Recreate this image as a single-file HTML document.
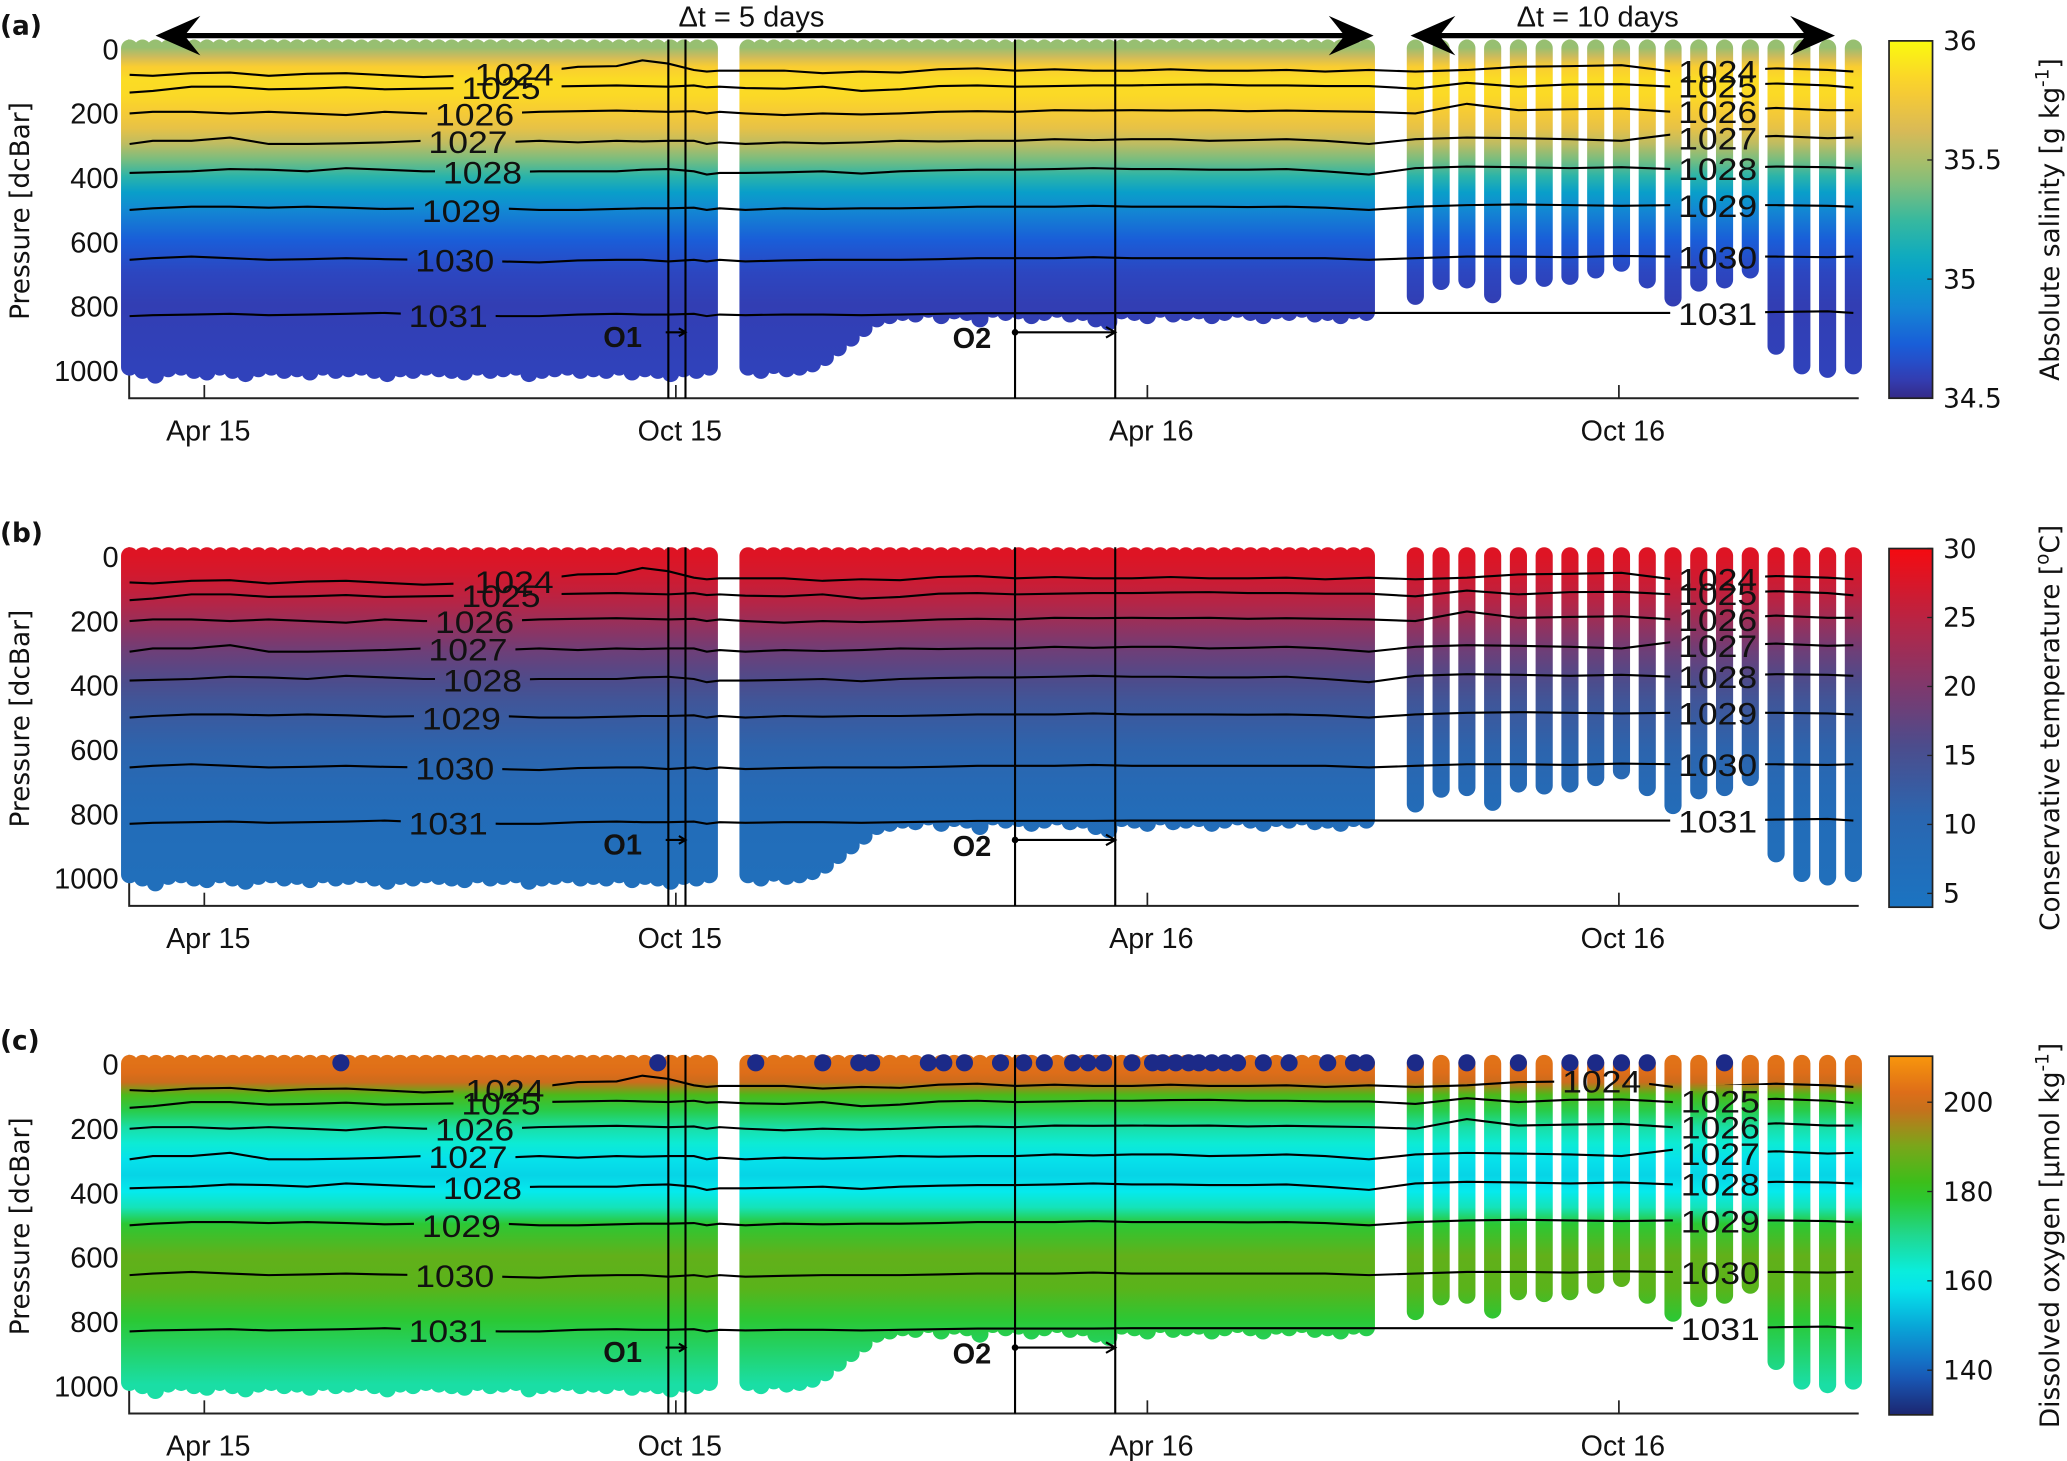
<!DOCTYPE html>
<html><head><meta charset="utf-8"><style>
html,body{margin:0;padding:0;background:#fff;}
svg{display:block;}
.tk{font-family:"Liberation Sans Narrow","Liberation Sans",sans-serif;font-size:22px;fill:#111;}
.iso{font-family:"Liberation Sans Narrow","Liberation Sans",sans-serif;font-size:24px;fill:#111;}
.cb{font-family:"DejaVu Sans","Liberation Sans",sans-serif;font-size:20px;fill:#111;}
</style></head><body>
<svg id="fig" width="2067" height="1461" viewBox="0 0 1568 1108" preserveAspectRatio="none" xmlns="http://www.w3.org/2000/svg"></svg>
<script>
// ---- data ----
const profileDays=[-29,-24,-19,-14,-9,-4,1,6,11,16,21,26,31,36,41,46,51,56,61,66,71,76,81,86,91,96,101,106,111,116,121,126,131,136,141,146,151,156,161,166,171,176,181,186,191,196,
211,216,221,226,231,236,241,246,251,256,261,266,271,276,281,286,291,296,301,306,311,316,321,326,331,336,341,346,351,356,361,366,371,376,381,386,391,396,401,406,411,416,421,426,431,436,441,446,451,
470,480,490,500,510,520,530,540,550,560,570,580,590,600,610,620,630,640];
const maxDepth=[1020,1030,1045,1025,1020,1030,1035,1020,1030,1040,1025,1020,1030,1025,1035,1020,1030,1025,1020,1030,1040,1025,1030,1020,1025,1030,1035,1020,1030,1025,1020,1040,1030,1025,1020,1030,1025,1030,1020,1035,1025,1030,1040,1025,1030,1020,
1020,1030,1015,1025,1020,1010,990,960,930,900,870,860,850,855,840,860,845,850,870,840,850,845,860,850,840,855,850,870,880,845,850,860,840,855,850,845,860,850,840,850,860,845,850,840,855,850,860,845,850,
800,754,749,795,738,744,738,718,697,749,805,759,749,718,955,1016,1027,1016];
const lowO2Days=[53,176,214,240,254,259,281,287,295,309,318,326,337,343,349,360,368,372,377,382,386,391,396,401,411,421,436,446,451,470,490,510,530,540,550,560,590];
const knotDays=[-29,-20,-5,10,25,40,55,70,85,100,115,130,145,160,170,180,190,195,200,210,225,240,255,270,285,300,315,330,345,360,375,390,405,420,435,452,470,490,510,530,550,570,590,610,630,640];
const d1024=[85,88,80,78,88,82,80,86,92,88,85,75,60,58,40,50,70,75,72,72,72,80,75,78,68,65,72,68,72,72,68,72,72,70,75,70,75,70,60,58,55,75,72,65,70,75];
const d1025=[140,135,122,122,130,128,124,130,128,126,124,122,120,118,120,122,118,124,122,126,128,122,135,130,120,118,122,120,118,118,116,115,118,118,120,120,128,110,122,115,114,122,118,112,118,125];
const d1026=[205,200,200,205,200,205,210,200,205,205,205,200,198,196,198,200,198,205,200,205,210,205,208,205,200,198,200,195,196,195,196,195,198,196,198,200,205,175,195,192,190,200,198,188,195,195];
const d1027=[300,290,290,280,300,300,298,295,290,290,295,290,295,290,292,290,290,300,295,300,295,298,295,290,292,290,290,285,288,285,285,290,288,285,290,300,285,280,282,285,290,270,282,275,282,280];
const d1028=[390,388,385,378,380,385,375,380,385,385,388,385,385,385,380,378,385,395,390,390,388,385,392,385,382,380,380,378,375,378,378,380,380,378,385,395,375,370,372,375,372,378,375,370,372,375];
const d1029=[505,500,495,495,498,495,498,502,500,505,500,505,505,502,500,500,498,505,500,505,500,502,500,500,498,495,495,495,492,495,495,495,496,495,498,505,495,490,488,490,492,490,490,490,492,495];
const d1030=[660,655,650,655,660,658,655,658,660,660,665,668,662,660,660,665,660,665,660,665,662,660,660,660,658,655,655,655,652,655,655,655,655,655,655,660,655,650,650,652,648,650,650,650,652,650];
const d1031=[835,832,830,828,832,830,828,825,830,832,835,835,830,828,830,830,828,835,830,832,830,830,832,830,828,826,826,826,826,825,825,825,825,825,825,825,825,825,825,825,825,825,825,822,820,825];
const isoNames=["1024","1025","1026","1027","1028","1029","1030","1031"];
const profDepths=[0,30,60,100,150,200,250,300,350,400,450,500,600,700,800,1000];
const salValues=[35.45,35.6,35.8,35.87,35.86,35.78,35.7,35.55,35.38,35.2,35.02,34.9,34.72,34.62,34.58,34.6];
const tempValues=[28,27.5,27,26,24.5,22.5,20.5,18.5,17,15.5,14,13,11,9,7.5,6.5];
const oxyValues=[203,202,199,184,176,168,163,158,156,159,166,178,187,186,178,168];
const monthTickDays=[0,183,366,549];
const monthTickLabels=["Apr 15","Oct 15","Apr 16","Oct 16"];
const pressureTicks=[0,200,400,600,800,1000];
const salTicks=[36,35.5,35,34.5], tempTicks=[30,25,20,15,10,5], oxyTicks=[200,180,160,140];

// ---- helpers ----
const NS="http://www.w3.org/2000/svg", svg=document.getElementById('fig');
function mk(tag,attrs,parent){const e=document.createElementNS(NS,tag);for(const k in attrs)e.setAttribute(k,attrs[k]);(parent||svg).appendChild(e);return e;}
const xS=d=>155+1.9546*d;
function hex(c){return [1,3,5].map(i=>parseInt(c.substr(i,2),16));}
function cmap(stops,t){t=Math.max(0,Math.min(1,t));for(let i=1;i<stops.length;i++){if(t<=stops[i][0]){const a=stops[i-1],b=stops[i],f=(t-a[0])/(b[0]-a[0]);const ca=hex(a[1]),cb=hex(b[1]);return 'rgb('+ca.map((v,j)=>Math.round(v+(cb[j]-v)*f)).join(',')+')';}}return stops[stops.length-1][1];}
const parula=[[0,'#352a87'],[0.06,'#3240b8'],[0.14,'#1a5ad8'],[0.25,'#1485d4'],[0.375,'#06a7c6'],[0.5,'#38b99e'],[0.625,'#92bf73'],[0.75,'#d9ba56'],[0.875,'#fcce2e'],[1,'#f9fb0e']];
const tmap=[[0,'#1b74c2'],[0.25,'#2a66b0'],[0.45,'#4c4c8c'],[0.6,'#7a3a70'],[0.8,'#b82444'],[1,'#f50a10']];
const omap=[[0,'#1c2670'],[0.12,'#1860c0'],[0.25,'#08a8d8'],[0.375,'#05f2f0'],[0.5,'#20d890'],[0.625,'#2ec41a'],[0.75,'#7aa61a'],[0.875,'#d8641c'],[1,'#f8960c']];

const panels=[
 {id:'a',y0:36,vals:salValues,cm:parula,lo:34.5,hi:36,ticks:salTicks,title:'Absolute salinity [g kg',sup:'-1',tail:']',cbTop:31,cbBot:302,leftLab:[390,380,360,355,366,350,345,340],rightLab:[1303,1303,1303,1303,1303,1303,1303,1303]},
 {id:'b',y0:421,vals:tempValues,cm:tmap,lo:4,hi:30,ticks:tempTicks,title:'Conservative temperature [',sup:'o',tail:'C]',cbTop:416,cbBot:688,leftLab:[390,380,360,355,366,350,345,340],rightLab:[1303,1303,1303,1303,1303,1303,1303,1303]},
 {id:'c',y0:806,vals:oxyValues,cm:omap,lo:130,hi:210.3,ticks:oxyTicks,title:'Dissolved oxygen [\u03bcmol kg',sup:'-1',tail:']',cbTop:801,cbBot:1073,leftLab:[383,380,360,355,366,350,345,340],rightLab:[1215,1305,1305,1305,1305,1305,1305,1305]}
];
const defs=mk('defs',{});
const isoArrays=[d1024,d1025,d1026,d1027,d1028,d1029,d1030,d1031];

panels.forEach(p=>{
 const yS=d=>p.y0+d*0.244, bottom=p.y0+266;
 const g=mk('g',{});
 
 
 const gr=mk('linearGradient',{id:'g'+p.id,gradientUnits:'userSpaceOnUse',x1:0,y1:yS(0),x2:0,y2:yS(1000)},defs);
 profDepths.forEach((d,i)=>mk('stop',{offset:d/1000,'stop-color':cmap(p.cm,(p.vals[i]-p.lo)/(p.hi-p.lo))},gr));
 const ax=mk('path',{d:`M98 ${p.y0-6} V${bottom} H1410`,stroke:'#222','stroke-width':1.5,fill:'none'},g);
 
 
 profileDays.forEach((d,i)=>{
  const r=mk('rect',{x:xS(d)-6.5,y:yS(0)-6,width:13,height:yS(maxDepth[i])-yS(0)+6,rx:6.5,fill:'url(#g'+p.id+')'},g);
  
  
 });
 if(p.id==='c'){lowO2Days.forEach(d=>{const c=mk('circle',{cx:xS(d),cy:yS(0),r:6.5,fill:'#1c2a88'},g);
  
  });}
 const m=mk('mask',{id:'m'+p.id,maskUnits:'userSpaceOnUse',x:0,y:0,width:1568,height:1108},defs);
 mk('rect',{x:0,y:0,width:1568,height:1108,fill:'#fff'},m);
 isoArrays.forEach((arr,k)=>{
  const pts=knotDays.map((d,i)=>[xS(d),yS(arr[i])]);
  const yAt=x=>{for(let i=1;i<pts.length;i++)if(x<=pts[i][0]){const f=(x-pts[i-1][0])/(pts[i][0]-pts[i-1][0]);return pts[i-1][1]+f*(pts[i][1]-pts[i-1][1]);}return pts[pts.length-1][1];};
  [p.leftLab[k],p.rightLab[k]].forEach(lx=>{
   const ly=yAt(lx);
   mk('rect',{x:lx-36,y:ly-12,width:72,height:24,fill:'#000'},m);
   const t=mk('text',{x:lx,y:ly+9,'text-anchor':'middle',class:'iso',textLength:60,lengthAdjust:'spacingAndGlyphs'},g);t.textContent=isoNames[k];
   
   
  });
  const pl=mk('polyline',{points:pts.map(q=>q.join(',')).join(' '),fill:'none',stroke:'#000','stroke-width':1.6,mask:'url(#m'+p.id+')'},g);
  
  
 });
 [507,520,770,846].forEach(x=>{const l=mk('line',{x1:x,y1:p.y0-6,x2:x,y2:bottom,stroke:'#000','stroke-width':1.6},g);
  
  });
 mk('path',{d:`M505 ${p.y0+216} H520 M515 ${p.y0+213} L520 ${p.y0+216} L515 ${p.y0+219} M770 ${p.y0+216} H846 M839 ${p.y0+212} L846 ${p.y0+216} L839 ${p.y0+220}`,stroke:'#000','stroke-width':1.6,fill:'none'},g);
 mk('circle',{cx:770,cy:p.y0+216,r:2.5,fill:'#000'},g);
 const o1=mk('text',{x:487,y:p.y0+227,'text-anchor':'end',class:'tk','font-weight':'bold','font-size':'23'},g);o1.textContent='O1';
 
 const o2=mk('text',{x:752,y:p.y0+228,'text-anchor':'end',class:'tk','font-weight':'bold','font-size':'23'},g);o2.textContent='O2';
 
 monthTickDays.forEach((d,i)=>{mk('line',{x1:xS(d),y1:bottom,x2:xS(d),y2:bottom-10,stroke:'#222','stroke-width':1.3},g);
  const t=mk('text',{x:xS(d)+3,y:bottom+32,'text-anchor':'middle',class:'tk','font-size':'23',textLength:64,lengthAdjust:'spacingAndGlyphs'},g);t.textContent=monthTickLabels[i];
  });
 pressureTicks.forEach(v=>{const t=mk('text',{x:90,y:yS(v)+9,'text-anchor':'end',class:'tk','font-size':'24'},g);t.textContent=v;
  });
 const yl=mk('text',{x:0,y:0,transform:`translate(22 ${p.y0+124}) rotate(-90)`,'text-anchor':'middle',class:'cb','font-size':'25'},g);yl.textContent='Pressure [dcBar]';
 
 const pl=mk('text',{x:0,y:p.y0-10,class:'cb','font-size':'23','font-weight':'bold'},g);pl.textContent='('+p.id+')';
 
 const cg=mk('linearGradient',{id:'cb'+p.id,x1:0,y1:1,x2:0,y2:0},defs);
 for(let i=0;i<=20;i++)mk('stop',{offset:i/20,'stop-color':cmap(p.cm,i/20)},cg);
 const cb=mk('rect',{x:1433,y:p.cbTop,width:33,height:p.cbBot-p.cbTop,fill:'url(#cb'+p.id+')',stroke:'#222','stroke-width':1.3},g);
 
 const cy=v=>p.cbBot-(v-p.lo)/(p.hi-p.lo)*(p.cbBot-p.cbTop);
 p.ticks.forEach(v=>{mk('line',{x1:1462,x2:1466,y1:cy(v),y2:cy(v),stroke:'#222'},g);
  const t=mk('text',{x:1474,y:cy(v)+7,class:'cb'},g);t.textContent=v;
  });
 const ct=mk('text',{x:0,y:0,transform:`translate(1562 ${(p.cbTop+p.cbBot)/2}) rotate(-90)`,'text-anchor':'middle',class:'cb','font-size':'20'},g);
 ct.appendChild(document.createTextNode(p.title));
 const sp=mk('tspan',{dy:-8,'font-size':'14'},ct);sp.textContent=p.sup;
 const tl=mk('tspan',{dy:8},ct);tl.textContent=p.tail;
 
});
const arr=mk('g',{});


[[118,1042],[1070,1392]].forEach(([a,b])=>{
 mk('line',{x1:a+20,y1:27,x2:b-20,y2:27,stroke:'#000','stroke-width':4},arr);
 mk('polygon',{points:`${a},27 ${a+34},12 ${a+22},27 ${a+34},42`,fill:'#000'},arr);
 mk('polygon',{points:`${b},27 ${b-34},12 ${b-22},27 ${b-34},42`,fill:'#000'},arr);
});
const t5=mk('text',{x:570,y:20,'text-anchor':'middle',class:'tk','font-size':'23'},arr);t5.textContent='\u0394t = 5 days';

const t10=mk('text',{x:1212,y:20,'text-anchor':'middle',class:'tk','font-size':'23'},arr);t10.textContent='\u0394t = 10 days';

</script>
</body></html>
